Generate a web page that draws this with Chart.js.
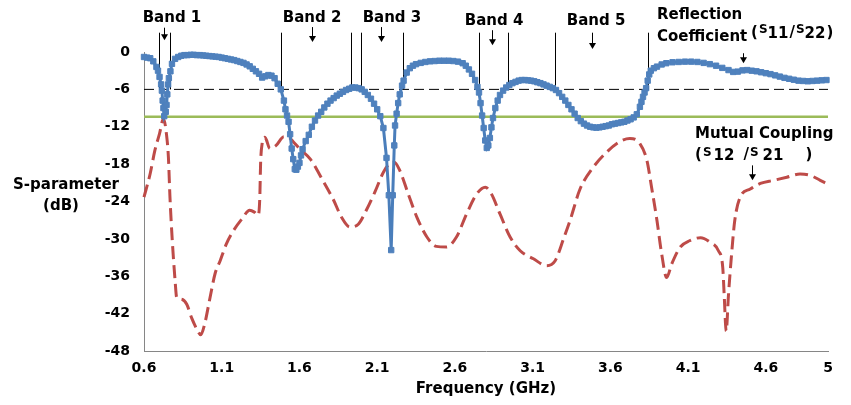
<!DOCTYPE html>
<html>
<head>
<meta charset="utf-8">
<script src="https://cdn.jsdelivr.net/npm/chart.js@4.4.0/dist/chart.umd.min.js"></script>
<style>
  html, body { margin: 0; padding: 0; background: #fff; }
  #wrap { width: 851px; height: 405px; }
</style>
</head>
<body>
<div id="wrap"><canvas id="sparam-chart"></canvas></div>
<script>
// reflection coefficient S11/S22, [GHz, dB]
const s11 = [
  [0.60,-0.8],[0.62,-0.9],[0.64,-1.0],[0.66,-1.5],[0.68,-2.4],[0.69,-3.0],[0.70,-4.0],[0.71,-5.2],
  [0.715,-6.2],[0.72,-7.8],[0.725,-9.0],[0.73,-10.3],[0.74,-9.6],[0.745,-8.5],[0.75,-6.8],[0.755,-5.2],
  [0.76,-4.2],[0.77,-3.1],[0.78,-1.9],[0.80,-1.1],[0.82,-0.8],[0.84,-0.6],[0.86,-0.5],[0.88,-0.5],
  [0.90,-0.45],[0.92,-0.45],[0.94,-0.5],[0.96,-0.5],[0.98,-0.55],[1.00,-0.6],[1.02,-0.65],[1.04,-0.7],
  [1.06,-0.75],[1.08,-0.8],[1.10,-0.9],[1.12,-1.0],[1.14,-1.1],[1.16,-1.2],[1.18,-1.3],[1.20,-1.45],
  [1.22,-1.6],[1.24,-1.75],[1.26,-2.0],[1.28,-2.3],[1.30,-2.7],[1.32,-3.1],[1.34,-3.5],[1.36,-4.1],
  [1.38,-3.9],[1.40,-3.7],[1.42,-3.8],[1.44,-4.2],[1.46,-5.1],[1.48,-6.0],[1.50,-7.8],[1.51,-9.2],
  [1.52,-10.2],[1.53,-11.2],[1.54,-13.2],[1.55,-15.5],[1.56,-17.2],[1.57,-18.8],[1.58,-18.9],[1.59,-18.4],
  [1.60,-17.8],[1.61,-16.6],[1.62,-15.6],[1.64,-14.3],[1.66,-13.3],[1.68,-12.0],[1.70,-11.0],[1.72,-10.2],
  [1.74,-9.6],[1.76,-8.9],[1.78,-8.3],[1.80,-7.8],[1.82,-7.4],[1.84,-7.0],[1.86,-6.7],[1.88,-6.4],
  [1.90,-6.1],[1.92,-5.9],[1.94,-5.7],[1.96,-5.7],[1.98,-5.8],[2.00,-6.0],[2.02,-6.4],[2.04,-6.9],
  [2.06,-7.5],[2.08,-8.3],[2.10,-9.2],[2.12,-10.3],[2.14,-12.2],[2.16,-17.0],[2.175,-23.0],[2.19,-31.8],
  [2.20,-23.0],[2.21,-15.0],[2.215,-11.8],[2.225,-9.9],[2.235,-8.2],[2.245,-6.8],[2.26,-5.4],[2.27,-4.6],
  [2.29,-3.3],[2.31,-2.6],[2.33,-2.2],[2.35,-1.95],[2.38,-1.75],[2.41,-1.6],[2.44,-1.5],[2.47,-1.45],
  [2.50,-1.4],[2.53,-1.4],[2.56,-1.4],[2.59,-1.45],[2.62,-1.55],[2.65,-1.8],[2.67,-2.2],[2.69,-2.8],
  [2.71,-3.5],[2.73,-4.5],[2.745,-5.6],[2.755,-6.5],[2.765,-8.2],[2.775,-10.2],[2.785,-12.2],[2.795,-14.2],
  [2.805,-15.4],[2.815,-15.0],[2.825,-13.8],[2.835,-12.1],[2.845,-10.6],[2.86,-9.0],[2.875,-7.8],[2.89,-6.9],
  [2.91,-6.2],[2.93,-5.7],[2.95,-5.3],[2.97,-5.0],[2.99,-4.8],[3.01,-4.6],[3.03,-4.5],[3.05,-4.5],
  [3.07,-4.55],[3.09,-4.6],[3.11,-4.7],[3.13,-4.85],[3.15,-5.0],[3.17,-5.2],[3.19,-5.4],[3.21,-5.6],
  [3.23,-5.8],[3.25,-6.1],[3.27,-6.6],[3.29,-7.2],[3.31,-7.8],[3.33,-8.5],[3.35,-9.2],[3.37,-9.9],
  [3.39,-10.6],[3.41,-11.1],[3.43,-11.5],[3.45,-11.8],[3.47,-12.0],[3.49,-12.1],[3.51,-12.15],[3.53,-12.1],
  [3.55,-12.0],[3.57,-11.9],[3.59,-11.8],[3.61,-11.6],[3.63,-11.5],[3.65,-11.4],[3.67,-11.3],[3.69,-11.2],
  [3.71,-11.0],[3.73,-10.8],[3.75,-10.5],[3.77,-10.0],[3.79,-8.8],[3.80,-8.0],[3.81,-7.2],[3.82,-6.5],
  [3.83,-5.8],[3.84,-4.6],[3.85,-3.6],[3.86,-3.0],[3.88,-2.6],[3.90,-2.35],[3.93,-2.0],[3.96,-1.8],
  [4.00,-1.65],[4.04,-1.6],[4.08,-1.55],[4.12,-1.55],[4.16,-1.6],[4.20,-1.75],[4.24,-1.95],[4.28,-2.2],
  [4.32,-2.55],[4.36,-2.9],[4.39,-3.2],[4.42,-3.15],[4.45,-2.95],[4.48,-2.9],[4.51,-3.0],[4.54,-3.1],
  [4.57,-3.25],[4.60,-3.4],[4.63,-3.55],[4.66,-3.75],[4.69,-3.95],[4.72,-4.15],[4.75,-4.3],[4.78,-4.45],
  [4.81,-4.6],[4.84,-4.65],[4.87,-4.7],[4.90,-4.65],[4.93,-4.6],[4.96,-4.55],[4.99,-4.5]
];

// mutual coupling S12/S21, [GHz, dB]
const s12 = [
  [0.60,-23.3],[0.64,-19.5],[0.67,-15.8],[0.70,-13.1],[0.725,-10.7],[0.745,-13.3],[0.757,-16.9],[0.767,-23.3],
  [0.782,-30.3],[0.80,-36.7],[0.81,-39.4],[0.84,-39.7],[0.875,-40.5],[0.905,-42.6],[0.94,-44.5],[0.965,-45.4],
  [0.99,-43.7],[1.025,-39.4],[1.057,-35.6],[1.09,-33.5],[1.13,-30.8],[1.175,-28.7],[1.23,-26.8],[1.28,-25.4],
  [1.31,-25.7],[1.335,-26.2],[1.345,-23.3],[1.35,-17.9],[1.36,-14.7],[1.378,-13.7],[1.41,-15.5],[1.45,-15.0],
  [1.50,-13.6],[1.53,-13.7],[1.56,-14.4],[1.60,-15.5],[1.67,-17.2],[1.75,-20.6],[1.82,-23.8],[1.87,-26.5],
  [1.925,-28.1],[1.98,-27.6],[2.03,-25.4],[2.085,-22.5],[2.14,-19.3],[2.18,-17.9],[2.21,-17.7],[2.245,-19.0],
  [2.30,-22.8],[2.355,-26.5],[2.42,-29.7],[2.48,-31.2],[2.545,-31.3],[2.61,-29.7],[2.675,-26.0],[2.74,-22.8],
  [2.795,-21.7],[2.835,-22.8],[2.89,-26.0],[2.955,-29.7],[3.02,-31.9],[3.105,-33.2],[3.19,-34.3],[3.245,-33.5],
  [3.30,-29.9],[3.34,-27.1],[3.405,-22.0],[3.49,-18.5],[3.575,-16.1],[3.66,-14.4],[3.725,-13.9],[3.79,-14.7],
  [3.835,-17.4],[3.865,-21.7],[3.90,-27.1],[3.93,-32.4],[3.962,-36.2],[3.995,-34.0],[4.05,-31.3],[4.11,-30.3],
  [4.18,-29.8],[4.24,-30.5],[4.295,-31.9],[4.323,-34.6],[4.332,-38.9],[4.345,-44.8],[4.36,-38.9],[4.38,-32.4],
  [4.40,-27.1],[4.435,-23.3],[4.50,-22.0],[4.565,-21.1],[4.65,-20.6],[4.735,-20.1],[4.82,-19.6],[4.885,-19.8],
  [4.95,-20.6],[4.99,-21.1]
];

const xTickValues = [0.6, 1.1, 1.6, 2.1, 2.6, 3.1, 3.6, 4.1, 4.6, 5];
const matchLevel = -6;        // dB, dashed black line
const couplingLevel = -10.4;  // dB, green line
const bandEdges = [[0.696, 0.767], [1.481, 1.932], [1.996, 2.266], [2.755, 2.942], [3.244, 3.842]];
const bandNames = ["Band 1", "Band 2", "Band 3", "Band 4", "Band 5"];

Chart.defaults.font.family = "'DejaVu Sans', Verdana, sans-serif";
Chart.defaults.color = "#000";

const BOLD = (size) => `bold ${size}px 'DejaVu Sans', Verdana, sans-serif`;

function drawArrow(ctx, x, y1, y2) {
  ctx.beginPath();
  ctx.moveTo(x, y1);
  ctx.lineTo(x, y2 - 5);
  ctx.stroke();
  ctx.beginPath();
  ctx.moveTo(x - 3.5, y2 - 6);
  ctx.lineTo(x + 3.5, y2 - 6);
  ctx.lineTo(x, y2);
  ctx.closePath();
  ctx.fill();
}

// pieces: [text, size, dy, gapAfter]
function drawPieces(ctx, x, y, pieces) {
  ctx.textAlign = "left";
  ctx.textBaseline = "middle";
  pieces.forEach(([t, size, dy, gap]) => {
    ctx.font = BOLD(size);
    ctx.fillText(t, x, y + dy);
    x += ctx.measureText(t).width + gap;
  });
}

// band edge lines, sit under the curves
const bandLines = {
  id: "bandLines",
  beforeDatasetsDraw(chart) {
    const { ctx, scales: { x, y } } = chart;
    ctx.save();
    ctx.strokeStyle = "#000";
    ctx.lineWidth = 1;
    bandEdges.flat().forEach((f) => {
      const xx = Math.round(x.getPixelForValue(f)) + 0.5;
      ctx.beginPath();
      ctx.moveTo(xx, y.getPixelForValue(3.1));
      ctx.lineTo(xx, y.getPixelForValue(matchLevel));
      ctx.stroke();
    });
    ctx.restore();
  },
};

// text labels and arrows
const annotations = {
  id: "annotations",
  afterDatasetsDraw(chart) {
    const { ctx, chartArea, scales: { x, y } } = chart;
    const px = (f) => x.getPixelForValue(f);
    const py = (d) => y.getPixelForValue(d);
    ctx.save();
    ctx.fillStyle = "#000";
    ctx.strokeStyle = "#000";
    ctx.lineWidth = 1;

    const labelAt = [[0.78, 5.5], [1.681, 5.5], [2.195, 5.5], [2.852, 5.0], [3.508, 5.0]];
    const arrowAt = [[0.729, 3.9, 1.9], [1.681, 4.0, 1.6], [2.125, 4.0, 1.6], [2.839, 3.5, 1.1], [3.482, 3.1, 0.5]];
    ctx.font = BOLD(15);
    ctx.textAlign = "center";
    ctx.textBaseline = "middle";
    bandNames.forEach((name, i) => {
      ctx.fillText(name, px(labelAt[i][0]), py(labelAt[i][1]));
      const [f, d1, d2] = arrowAt[i];
      drawArrow(ctx, Math.round(px(f)) + 0.5, py(d1), py(d2));
    });

    // reflection coefficient label
    ctx.textAlign = "left";
    ctx.fillText("Reflection", px(3.9), py(5.96));
    ctx.fillText("Coefficient", px(3.9), py(2.42));
    drawPieces(ctx, px(4.505), py(3.06), [
      ["(", 15, 0, 1], ["S", 12, -3, 0], ["11", 15, 1, 1], ["/", 15, 0, 1],
      ["S", 12, -3, 0], ["22", 15, 1, 1], [")", 15, 0, 0],
    ]);
    drawArrow(ctx, Math.round(px(4.453)) + 0.5, py(-0.2), py(-1.8));

    // mutual coupling label
    ctx.font = BOLD(15);
    ctx.textAlign = "left";
    ctx.textBaseline = "middle";
    ctx.fillText("Mutual Coupling", px(4.145), py(-13.2));
    drawPieces(ctx, px(4.145), py(-16.6), [
      ["(", 15, 0, 1], ["S", 12, -3, 2], ["12", 15, 1, 9], ["/", 15, 0, 1],
      ["S", 12, -3, 4], ["21", 15, 1, 22], [")", 15, 0, 0],
    ]);
    drawArrow(ctx, Math.round(px(4.51)) + 0.5, py(-18.2), py(-20.6));

    // y axis title, horizontal
    ctx.font = BOLD(15);
    ctx.textAlign = "center";
    ctx.fillText("S-parameter", chartArea.left - 78, py(-21.3));
    ctx.fillText("(dB)", chartArea.left - 83, py(-24.8));
    ctx.restore();
  },
};

const ctx = document.getElementById("sparam-chart").getContext("2d");

new Chart(ctx, {
  type: "line",
  data: {
    datasets: [
      {
        label: "S11/S22",
        data: s11.map(([f, d]) => ({ x: f, y: d })),
        borderColor: "#4A7EBB",
        backgroundColor: "#4F81BD",
        borderWidth: 3,
        pointStyle: "rect",
        pointRadius: 3.8,
        pointBorderWidth: 1,
        pointBorderColor: "#4F81BD",
        tension: 0,
        clip: false,
      },
      {
        label: "-6 dB",
        data: [{ x: 0.6, y: matchLevel }, { x: 5, y: matchLevel }],
        borderColor: "#000",
        borderWidth: 1,
        borderDash: [10, 5],
        pointRadius: 0,
      },
      {
        label: "coupling limit",
        data: [{ x: 0.6, y: couplingLevel }, { x: 5, y: couplingLevel }],
        borderColor: "#9BBB59",
        borderWidth: 2.5,
        pointRadius: 0,
      },
      {
        label: "S12/S21",
        data: s12.map(([f, d]) => ({ x: f, y: d })),
        borderColor: "#BE4B48",
        borderWidth: 3,
        borderDash: [13, 6],
        pointRadius: 0,
        cubicInterpolationMode: "monotone",
        clip: false,
      },
    ],
  },
  options: {
    responsive: true,
    maintainAspectRatio: false,
    animation: false,
    devicePixelRatio: 1,
    layout: { padding: { top: 52, right: 23, bottom: 0, left: 0 } },
    plugins: {
      legend: { display: false },
      tooltip: { enabled: false },
    },
    scales: {
      x: {
        type: "linear",
        min: 0.6,
        max: 5,
        afterBuildTicks: (scale) => {
          scale.ticks = xTickValues.map((v) => ({ value: v }));
        },
        afterFit: (scale) => { scale.height = 54; },
        ticks: {
          font: { size: 14, weight: "bold" },
          padding: 9,
          maxRotation: 0,
          autoSkip: false,
          callback: (v) => String(Number(v.toFixed(1))),
        },
        grid: { display: false, drawTicks: false },
        border: { color: "#868686", width: 1 },
        title: {
          display: true,
          text: "Frequency (GHz)",
          font: { size: 15, weight: "bold" },
          padding: { top: 0, bottom: 7 },
        },
      },
      y: {
        min: -48,
        max: 0,
        afterFit: (scale) => { scale.width = 144; },
        ticks: {
          stepSize: 6,
          font: { size: 14, weight: "bold" },
          padding: 14,
          callback: (v) => String(v),
        },
        grid: { display: false, drawTicks: false },
        border: { color: "#868686", width: 1 },
      },
    },
  },
  plugins: [bandLines, annotations],
});
</script>
</body>
</html>
